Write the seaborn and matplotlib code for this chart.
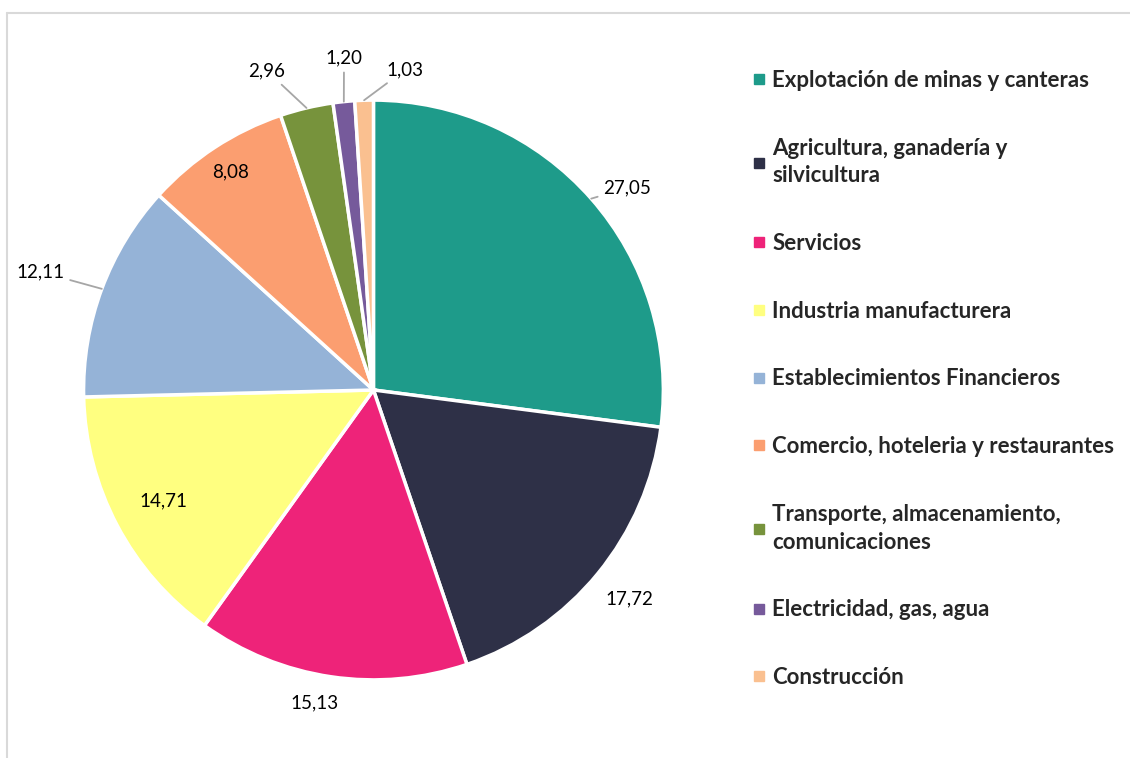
import numpy as np
import matplotlib
matplotlib.use('Agg')
import matplotlib.pyplot as plt
from matplotlib.lines import Line2D
import seaborn as sns

sectores = ['Explotación de minas y canteras',
            'Agricultura, ganadería y\nsilvicultura',
            'Servicios',
            'Industria manufacturera',
            'Establecimientos Financieros',
            'Comercio, hoteleria y restaurantes',
            'Transporte, almacenamiento,\ncomunicaciones',
            'Electricidad, gas, agua',
            'Construcción']
valores = [27.05, 17.72, 15.13, 14.71, 12.11, 8.08, 2.96, 1.20, 1.03]
etiquetas = ['27,05', '17,72', '15,13', '14,71', '12,11', '8,08', '2,96', '1,20', '1,03']

colores = ['#1E9B8A', '#2E3047', '#EE2379', '#FFFF80', '#95B3D7',
           '#FB9E70', '#77933C', '#765A9B', '#FAC090']

# label placement: (radial factor, angle nudge in degrees, leader line)
lbl_pos = [(1.12, -2.8, True), (1.14, 0, False), (1.10, -2.3, False),
           (0.82, 0, False), (1.22, 0.9, True), (0.90, 0, False),
           (1.16, 5.1, True), (1.15, -0.8, True), (1.11, -7.5, True)]

sns.set_theme(style='white')
plt.rcParams['font.family'] = ['Lato', 'DejaVu Sans']
pal = sns.color_palette(colores)

fig = plt.figure(figsize=(11.3, 7.58), dpi=100)
ax = fig.add_axes([-0.003, -0.012, 0.667, 0.995])

wedges, _ = ax.pie(valores, colors=pal, startangle=90, counterclock=False,
                   radius=1.0, wedgeprops=dict(edgecolor='white', linewidth=2.5))
ax.set_xlim(-1.3, 1.3)
ax.set_ylim(-1.3, 1.3)
ax.set_aspect('equal')
ax.axis('off')

for w, lab, (rf, nudge, leader) in zip(wedges, etiquetas, lbl_pos):
    mid = 0.5 * (w.theta1 + w.theta2)
    ang = np.deg2rad(mid + nudge)
    tx, ty = rf * np.cos(ang), rf * np.sin(ang)
    if leader:
        ex, ey = np.cos(np.deg2rad(mid)), np.sin(np.deg2rad(mid))
        ax.annotate(lab, xy=(ex, ey), xytext=(tx, ty), ha='center', va='center',
                    fontsize=13.5, color='black',
                    arrowprops=dict(arrowstyle='-', color='#A6A6A6', lw=1.3,
                                    shrinkA=2, shrinkB=0))
    else:
        ax.text(tx, ty, lab, ha='center', va='center', fontsize=13.5, color='black')

handles = [Line2D([0], [0], marker='s', linestyle='', markersize=7,
                  markerfacecolor=c, markeredgecolor=c) for c in pal]
leg = fig.legend(handles, sectores, loc='upper left', bbox_to_anchor=(0.648, 0.934),
                 frameon=False, labelspacing=2.1, handlelength=0.6, handletextpad=0.3,
                 prop={'family': 'Lato', 'weight': 'bold', 'size': 16})
for t in leg.get_texts():
    t.set_linespacing(1.4)

# chart area border (partly cropped)
fig.add_artist(Line2D([7 / 1130, 7 / 1130], [0, 1 - 13 / 758], transform=fig.transFigure,
                      color='#D9D9D9', lw=1.5))
fig.add_artist(Line2D([7 / 1130, 1], [1 - 13 / 758, 1 - 13 / 758], transform=fig.transFigure,
                      color='#D9D9D9', lw=1.5))

fig.savefig('out.png', dpi=100)
